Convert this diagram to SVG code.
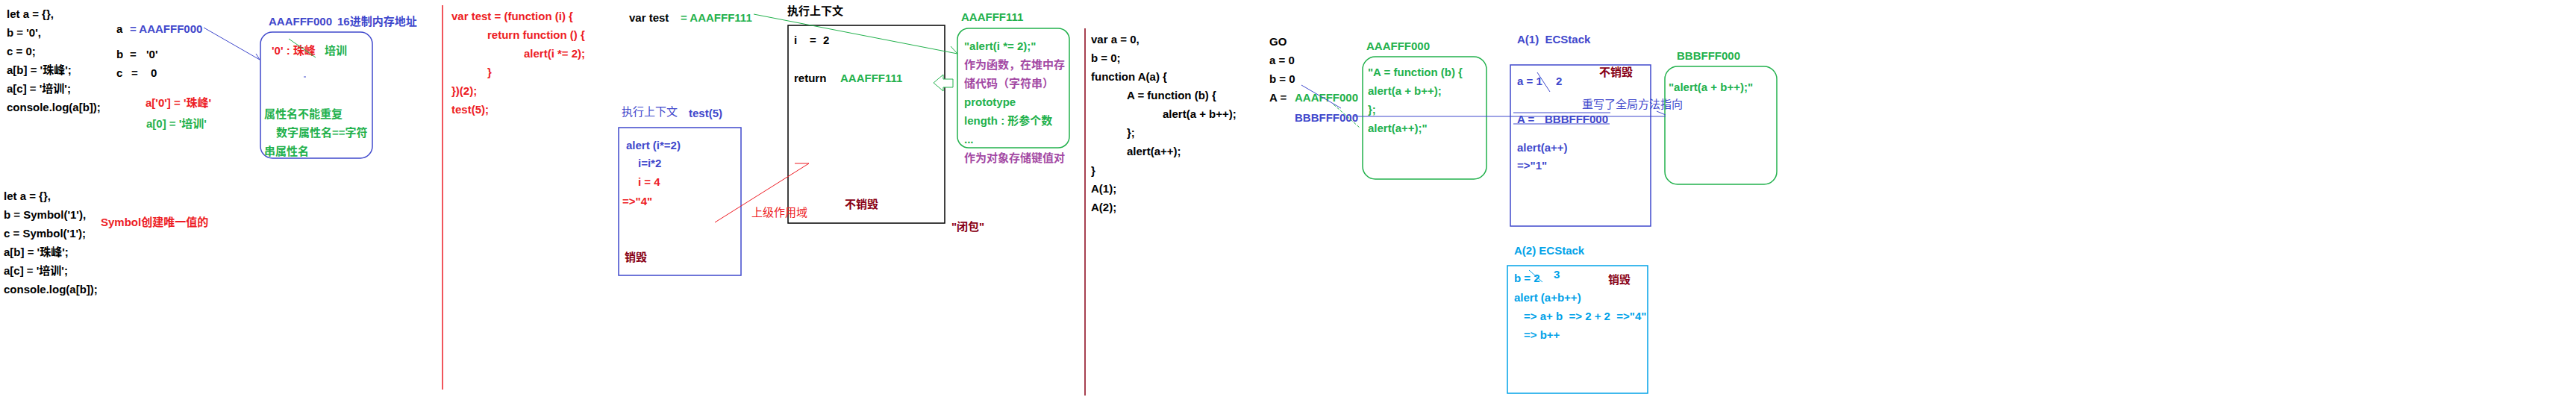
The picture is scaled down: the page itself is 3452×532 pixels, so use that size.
<svg xmlns="http://www.w3.org/2000/svg" width="3452" height="532" viewBox="0 0 3452 532">
<defs>
<style>
text{font-family:"Liberation Sans","Noto Sans CJK SC",sans-serif;font-size:15px;font-weight:bold;white-space:pre}
.k{fill:#000}.b{fill:#3f48cc}.r{fill:#ed1c24}.g{fill:#22b14c}.p{fill:#a349a4}.d{fill:#880015}.c{fill:#00a2e8}
.n{font-weight:normal}
.box{fill:none;stroke-width:1.5}
.ln{fill:none;stroke-width:1}
</style>
</defs>
<rect width="3452" height="532" fill="#fff"/>

<g id="code-1" class="k">
<text x="9" y="24">let a = {},</text>
<text x="9" y="49">b = '0',</text>
<text x="9" y="74">c = 0;</text>
<text x="9" y="99">a[b] = '珠峰';</text>
<text x="9" y="124">a[c] = '培训';</text>
<text x="9" y="149">console.log(a[b]);</text>
</g>

<g id="vars-1">
<text x="156" y="44" class="k">a</text>
<text x="174" y="44" class="b">= AAAFFF000</text>
<text x="156" y="78" class="k">b</text><text x="174" y="78" class="k">=</text><text x="196" y="78" class="k">'0'</text>
<text x="156" y="103" class="k">c</text><text x="176" y="103" class="k">=</text><text x="202" y="103" class="k">0</text>
<text x="195" y="143" class="r">a['0'] = '珠峰'</text>
<text x="196" y="171" class="g">a[0] = '培训'</text>
</g>

<g id="heap-AAAFFF000-1">
<text x="360" y="34" class="b">AAAFFF000</text>
<text x="452" y="34" class="b">16进制内存地址</text>
<rect x="349" y="43" width="150" height="169" rx="16" class="box" stroke="#3f48cc"/>
<text x="364" y="73" class="r">'0' : 珠峰</text>
<text x="435" y="73" class="g">培训</text>
<line x1="387" y1="52" x2="423" y2="77" class="ln" stroke="#22b14c"/>
<line x1="407" y1="103" x2="410" y2="103" class="ln" stroke="#3f48cc"/>
<text x="354" y="158" class="g">属性名不能重复</text>
<text x="370" y="183" class="g">数字属性名==字符</text>
<text x="354" y="208" class="g">串属性名</text>
</g>

<g id="code-2" class="k">
<text x="5" y="268">let a = {},</text>
<text x="5" y="293">b = Symbol('1'),</text>
<text x="5" y="318">c = Symbol('1');</text>
<text x="5" y="343">a[b] = '珠峰';</text>
<text x="5" y="368">a[c] = '培训';</text>
<text x="5" y="393">console.log(a[b]);</text>
</g>
<g id="note-symbol"><text x="135" y="303" class="r">Symbol创建唯一值的</text></g>

<g id="code-3" class="r">
<text x="605" y="27">var test = (function (i) {</text>
<text x="653" y="52">return function () {</text>
<text x="702" y="77">alert(i *= 2);</text>
<text x="653" y="102">}</text>
<text x="605" y="127">})(2);</text>
<text x="605" y="152">test(5);</text>
</g>

<g id="var-test">
<text x="843" y="29" class="k">var test</text>
<text x="912" y="29" class="g">= AAAFFF111</text>
</g>

<g id="ec-closure">
<text x="1055" y="20" class="k">执行上下文</text>
<rect x="1056" y="34" width="210" height="265" class="box" stroke="#000"/>
<text x="1064" y="59" class="k">i</text><text x="1085" y="59" class="k">=</text><text x="1103" y="59" class="k">2</text>
<text x="1064" y="110" class="k">return</text>
<text x="1126" y="110" class="g">AAAFFF111</text>
<text x="1132" y="279" class="d">不销毁</text>
</g>
<g id="label-closure"><text x="1275" y="309" class="d">"闭包"</text></g>

<g id="heap-AAAFFF111">
<text x="1288" y="28" class="g">AAAFFF111</text>
<rect x="1283" y="38" width="150" height="160" rx="15" class="box" stroke="#22b14c"/>
<text x="1292" y="67" class="g">"alert(i *= 2);"</text>
<text x="1292" y="92" class="p">作为函数，在堆中存</text>
<text x="1292" y="117" class="p">储代码（字符串）</text>
<text x="1292" y="142" class="g">prototype</text>
<text x="1292" y="167" class="g">length : 形参个数</text>
<text x="1292" y="192" class="g">...</text>
<text x="1292" y="217" class="p">作为对象存储键值对</text>
</g>

<g id="ec-test5">
<text x="833" y="155" class="b n">执行上下文</text>
<text x="923" y="157" class="b">test(5)</text>
<rect x="829" y="171" width="164" height="198" class="box" stroke="#3f48cc"/>
<text x="839" y="200" class="b">alert (i*=2)</text>
<text x="855" y="224" class="b">i=i*2</text>
<text x="855" y="249" class="r">i = 4</text>
<text x="834" y="275" class="r">=&gt;"4"</text>
<text x="837" y="350" class="d">销毁</text>
</g>
<g id="label-scope"><text x="1007" y="290" class="r n">上级作用域</text></g>

<g id="code-4" class="k">
<text x="1462" y="58">var a = 0,</text>
<text x="1462" y="83">b = 0;</text>
<text x="1462" y="108">function A(a) {</text>
<text x="1510" y="133">A = function (b) {</text>
<text x="1558" y="158">alert(a + b++);</text>
<text x="1510" y="183">};</text>
<text x="1510" y="208">alert(a++);</text>
<text x="1462" y="234">}</text>
<text x="1462" y="258">A(1);</text>
<text x="1462" y="283">A(2);</text>
</g>

<g id="go">
<text x="1701" y="61" class="k">GO</text>
<text x="1701" y="86" class="k">a = 0</text>
<text x="1701" y="111" class="k">b = 0</text>
<text x="1701" y="136" class="k">A =</text>
<text x="1735" y="136" class="g">AAAFFF000</text>
<text x="1735" y="163" class="b">BBBFFF000</text>
</g>

<g id="heap-AAAFFF000-2">
<text x="1831" y="67" class="g">AAAFFF000</text>
<rect x="1826" y="76" width="166" height="164" rx="17" class="box" stroke="#22b14c"/>
<text x="1833" y="102" class="g">"A = function (b) {</text>
<text x="1833" y="127" class="g">alert(a + b++);</text>
<text x="1833" y="152" class="g">};</text>
<text x="1833" y="177" class="g">alert(a++);"</text>
</g>

<g id="ec-A1">
<text x="2033" y="58" class="b">A(1)  ECStack</text>
<rect x="2024" y="87" width="188" height="216" class="box" stroke="#3f48cc"/>
<text x="2033" y="114" class="b">a = 1</text>
<text x="2085" y="114" class="b">2</text>
<line x1="2060" y1="97" x2="2077" y2="123" class="ln" stroke="#3f48cc"/>
<text x="2143" y="102" class="d">不销毁</text>
<text x="2033" y="165" class="b">A =</text>
<text x="2070" y="165" class="b">BBBFFF000</text>
<line x1="2028" y1="151" x2="2158" y2="151" class="ln" stroke="#3f48cc"/>
<line x1="2028" y1="166" x2="2157" y2="166" class="ln" stroke="#3f48cc"/>
<text x="2033" y="203" class="b">alert(a++)</text>
<text x="2033" y="227" class="b">=&gt;"1"</text>
</g>
<g id="label-rewrite"><text x="2120" y="145" class="b n">重写了全局方法指向</text></g>

<g id="heap-BBBFFF000">
<text x="2247" y="80" class="g">BBBFFF000</text>
<rect x="2231" y="89" width="150" height="158" rx="17" class="box" stroke="#22b14c"/>
<text x="2236" y="122" class="g">"alert(a + b++);"</text>
</g>

<g id="ec-A2">
<text x="2029" y="341" class="c">A(2) ECStack</text>
<rect x="2020" y="356" width="188" height="171" class="box" stroke="#00a2e8"/>
<text x="2029" y="378" class="c">b = 2</text>
<text x="2082" y="373" class="c">3</text>
<line x1="2049" y1="362" x2="2067" y2="378" class="ln" stroke="#00a2e8"/>
<text x="2155" y="380" class="d">销毁</text>
<text x="2029" y="404" class="c">alert (a+b++)</text>
<text x="2042" y="429" class="c">=&gt; a+ b  =&gt; 2 + 2  =&gt;"4"</text>
<text x="2042" y="454" class="c">=&gt; b++</text>
</g>

<g id="connectors">
<line x1="593" y1="7" x2="593" y2="522" stroke="#ed1c24" stroke-width="1.5"/>
<line x1="1454" y1="38" x2="1454" y2="530" stroke="#880015" stroke-width="1.5"/>
<line x1="273" y1="37" x2="348" y2="80" class="ln" stroke="#3f48cc"/>
<line x1="343" y1="72" x2="348" y2="80" class="ln" stroke="#3f48cc"/>
<line x1="1010" y1="19" x2="1283" y2="72" class="ln" stroke="#22b14c"/>
<line x1="1274" y1="62" x2="1283" y2="72" class="ln" stroke="#22b14c"/>
<polygon points="1251,111 1264,100 1264,106 1277,106 1277,117 1264,117 1264,122" fill="#fff" stroke="#22b14c" stroke-width="1"/>
<line x1="958" y1="298" x2="1084" y2="219" class="ln" stroke="#ed1c24"/>
<line x1="1065" y1="219" x2="1084" y2="219" class="ln" stroke="#ed1c24"/>
<line x1="1744" y1="114" x2="1797" y2="145" class="ln" stroke="#3f48cc"/>
<line x1="1787" y1="140" x2="1822" y2="171" class="ln" stroke="#22b14c" stroke-dasharray="4 2"/>
<line x1="1815" y1="156" x2="2232" y2="156" class="ln" stroke="#3f48cc"/>
<line x1="2220" y1="149" x2="2232" y2="154" class="ln" stroke="#3f48cc"/>
</g>
</svg>
